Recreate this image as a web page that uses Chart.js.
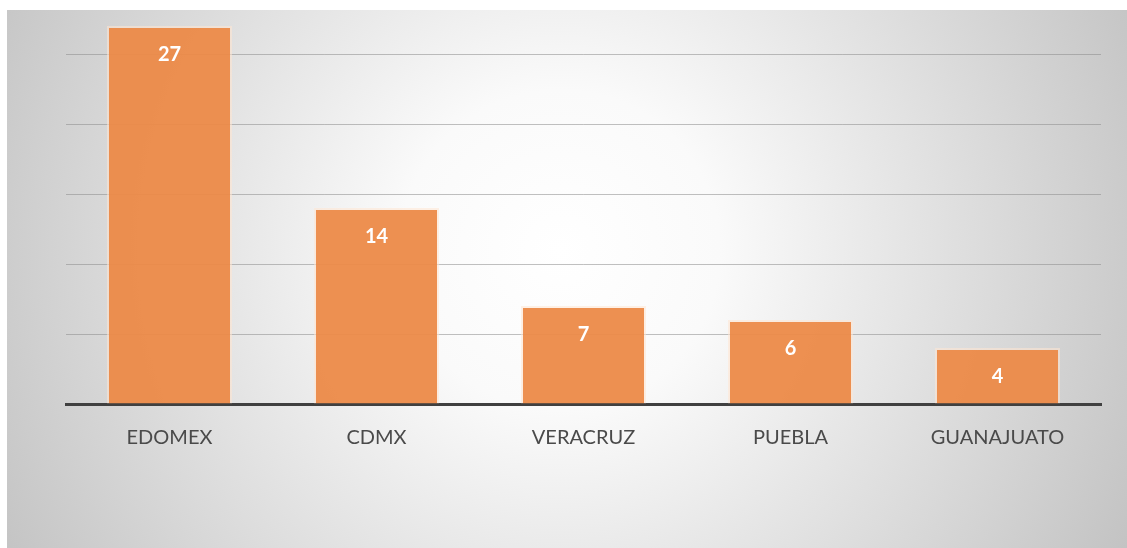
<!DOCTYPE html>
<html>
<head>
<meta charset="utf-8">
<script src="https://cdn.jsdelivr.net/npm/chart.js@4"></script>
<style>
  html, body { margin: 0; padding: 0; background: #fff; }
  #wrap { width: 1127px; height: 548px; position: relative; }
</style>
</head>
<body>
<div id="wrap"><canvas id="chart" width="1127" height="548"></canvas></div>
<script>
'use strict';

// ── Data ─────────────────────────────────────────────────────────────────────
const states = ['EDOMEX', 'CDMX', 'VERACRUZ', 'PUEBLA', 'GUANAJUATO'];
const counts = [27, 14, 7, 6, 4];

// ── Plugins ──────────────────────────────────────────────────────────────────
// gray radial backdrop, white in the middle
const backdrop = {
  id: 'backdrop',
  beforeDraw(c) {
    const ctx = c.ctx;
    const x0 = 7, y0 = 10, x1 = 1127, y1 = 548;
    const g = ctx.createRadialGradient(560, 250, 0, 560, 250, 640);
    g.addColorStop(0, '#ffffff');
    g.addColorStop(0.25, '#fafafa');
    g.addColorStop(1, '#c3c3c3');
    ctx.save();
    ctx.fillStyle = g;
    ctx.fillRect(x0, y0, x1 - x0, y1 - y0);
    ctx.restore();
  }
};

// value inside each bar, near its top
const valueLabels = {
  id: 'valueLabels',
  afterDatasetsDraw(c) {
    const ctx = c.ctx;
    const meta = c.getDatasetMeta(0);
    ctx.save();
    ctx.font = 'bold 20px Lato, "Open Sans", sans-serif';
    ctx.fillStyle = '#ffffff';
    ctx.textAlign = 'center';
    ctx.textBaseline = 'middle';
    meta.data.forEach((bar, i) => {
      ctx.fillText(String(counts[i]), bar.x, bar.y + 29);
    });
    ctx.restore();
  }
};

// ── Chart ────────────────────────────────────────────────────────────────────
new Chart(document.getElementById('chart'), {
  type: 'bar',
  data: {
    labels: states,
    datasets: [{
      data: counts,
      backgroundColor: 'rgba(236,138,72,0.95)',
      borderColor: 'rgba(255,230,210,0.55)',
      borderWidth: { top: 2, left: 2, right: 2, bottom: 0 },
      barPercentage: 0.604,
      categoryPercentage: 1
    }]
  },
  options: {
    responsive: false,
    animation: false,
    layout: { padding: { left: 66, right: 26, top: 26, bottom: 0 } },
    plugins: { legend: { display: false }, tooltip: { enabled: false } },
    scales: {
      x: {
        grid: { display: false },
        border: { display: true, color: '#404040', width: 3 },
        ticks: {
          color: '#4a4a4a',
          font: { family: 'Lato, "Open Sans", sans-serif', size: 20 },
          padding: 14
        },
        afterFit: s => { s.height = 144; }
      },
      y: {
        min: 0,
        max: 27,
        ticks: { display: false, stepSize: 5 },
        border: { display: false },
        grid: {
          drawTicks: false,
          color: ctx => (ctx.tick && ctx.tick.value % 5 === 0 && ctx.tick.value > 0) ? 'rgba(140,140,140,0.55)' : 'transparent',
          lineWidth: 1
        },
        afterFit: s => { s.width = 0; }
      }
    }
  },
  plugins: [backdrop, valueLabels]
});
</script>
</body>
</html>
